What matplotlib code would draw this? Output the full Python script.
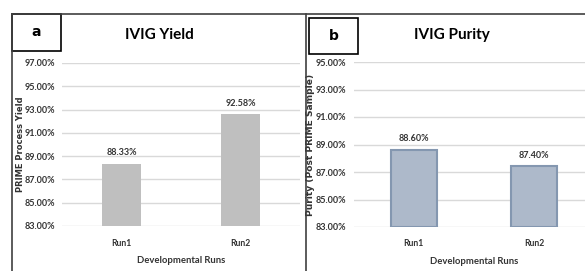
import matplotlib
matplotlib.use("Agg")
from matplotlib import pyplot as plt
from matplotlib.lines import Line2D
from matplotlib.patches import Rectangle
from matplotlib.ticker import FuncFormatter

# data
runs = ["Run1", "Run2"]
yield_vals = [88.33, 92.58]
purity_vals = [88.60, 87.40]
yield_ticks = [83, 85, 87, 89, 91, 93, 95, 97]
purity_ticks = [83, 85, 87, 89, 91, 93, 95]

W, H = 585, 271
narrow = ["Lato", "DejaVu Sans"]
txt = "#333333"

fig = plt.figure(figsize=(W / 100, H / 100), dpi=100)


def px_box(left, top, right, bottom):
    # pixel box -> figure fraction
    return [left / W, 1 - bottom / H, (right - left) / W, (bottom - top) / H]


def panel(ax, vals, ticks, color, edge, width, ylabel, yl_size):
    x = range(len(runs))
    bars = ax.bar(x, [v - ticks[0] for v in vals], width=width,
                  bottom=ticks[0], color=color, edgecolor=edge,
                  linewidth=1.5 if edge != "none" else 0, zorder=3)
    for b, v in zip(bars, vals):
        ax.annotate("%.2f%%" % v, (b.get_x() + b.get_width() / 2, v),
                    xytext=(0, 5), textcoords="offset points", ha="center",
                    va="bottom", fontsize=6.5, family=narrow,
                    fontweight="bold", color=txt)
    ax.set_xlim(-0.5, len(runs) - 0.5)
    ax.set_ylim(ticks[0], ticks[-1])
    ax.set_yticks(ticks)
    ax.yaxis.set_major_formatter(FuncFormatter(lambda v, p: "%.2f%%" % v))
    ax.set_xticks(list(x))
    ax.set_xticklabels(runs)
    ax.grid(axis="y", color="#D9D9D9", linewidth=1, zorder=0)
    for s in ax.spines.values():
        s.set_visible(False)
    ax.tick_params(length=0, labelsize=6.5, labelcolor=txt, pad=5)
    ax.tick_params(axis="x", pad=9, labelsize=6.2)
    for t in ax.get_xticklabels() + ax.get_yticklabels():
        t.set_family(narrow)
        t.set_fontweight("bold")
    ax.set_xlabel("Developmental Runs", fontsize=6.8, family=narrow,
                  fontweight="bold", color=txt, labelpad=6)
    ax.set_ylabel(ylabel, fontsize=yl_size, fontweight="bold", color=txt)


ax1 = fig.add_axes(px_box(62, 63, 300, 226))
panel(ax1, yield_vals, yield_ticks, "#BFBFBF", "none", 0.32,
      "PRIME Process Yield", 6)
ax1.yaxis.set_label_coords(-0.155, 0.5)

ax2 = fig.add_axes(px_box(353.5, 62, 594.5, 227))
panel(ax2, purity_vals, purity_ticks, "#ADB9CA", "#8497B0", 0.38,
      "Purity (Post PRIME Sample)", 6.6)
ax2.yaxis.set_label_coords(-0.16, 0.5)

# titles
fig.text(159 / W, 1 - 35 / H, "IVIG Yield", ha="center", va="center",
         fontsize=11, family=narrow, fontweight="bold")
fig.text(452 / W, 1 - 35 / H, "IVIG Purity", ha="center", va="center",
         fontsize=11, family=narrow, fontweight="bold")

# panel letters in boxes
for (l, t, r, b), letter in [((12, 14, 61, 51), "a"), ((309, 18, 358, 54), "b")]:
    fig.add_artist(Rectangle((l / W, 1 - b / H), (r - l) / W, (b - t) / H,
                             transform=fig.transFigure, fill=False,
                             edgecolor="black", linewidth=1.2))
    fig.text((l + r) / 2 / W, 1 - (t + b) / 2 / H, letter, ha="center",
             va="center", fontsize=10, fontweight="bold")

# panel frames
frame = dict(color="#404040", linewidth=1.2, transform=fig.transFigure)
fig.add_artist(Line2D([12 / W, 12 / W], [0, 1 - 14 / H], **frame))
fig.add_artist(Line2D([12 / W, 1], [1 - 14 / H, 1 - 14 / H], **frame))
fig.add_artist(Line2D([305.5 / W, 305.5 / W], [0, 1 - 14 / H], **frame))

fig.savefig("out.png", dpi=100)
